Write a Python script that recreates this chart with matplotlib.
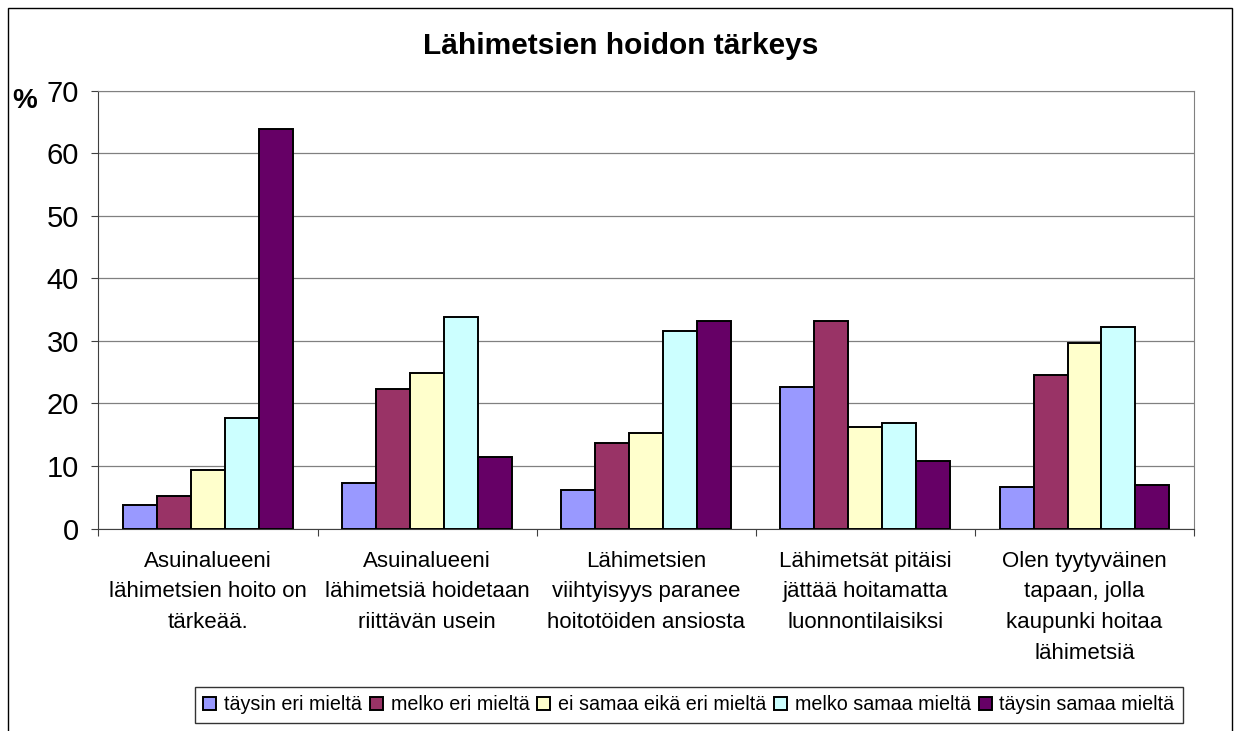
import matplotlib
matplotlib.use("Agg")
import matplotlib.pyplot as plt
from matplotlib.patches import Rectangle
import numpy as np

plt.rcParams['font.family'] = ['Liberation Sans', 'DejaVu Sans']

categories = [
    "Asuinalueeni\nlähimetsien hoito on\ntärkeää.",
    "Asuinalueeni\nlähimetsiä hoidetaan\nriittävän usein",
    "Lähimetsien\nviihtyisyys paranee\nhoitotöiden ansiosta",
    "Lähimetsät pitäisi\njättää hoitamatta\nluonnontilaisiksi",
    "Olen tyytyväinen\ntapaan, jolla\nkaupunki hoitaa\nlähimetsiä",
]
series_names = ["täysin eri mieltä", "melko eri mieltä", "ei samaa eikä eri mieltä",
                "melko samaa mieltä", "täysin samaa mieltä"]
taysin_eri = [3.8, 7.3, 6.1, 22.6, 6.7]
melko_eri = [5.2, 22.3, 13.7, 33.2, 24.6]
ei_samaa_eika_eri = [9.3, 24.8, 15.3, 16.3, 29.7]
melko_samaa = [17.6, 33.8, 31.6, 16.9, 32.3]
taysin_samaa = [63.9, 11.4, 33.2, 10.8, 7.0]
colors = ["#9999FF", "#993366", "#FFFFCC", "#CCFFFF", "#660066"]

values = [taysin_eri, melko_eri, ei_samaa_eika_eri, melko_samaa, taysin_samaa]

fig = plt.figure(figsize=(12.37, 7.31), dpi=100)
ax = fig.add_axes([0.0796, 0.277, 0.8857, 0.5989])

x = np.arange(len(categories))
w = 0.155
for i, (name, vals, c) in enumerate(zip(series_names, values, colors)):
    ax.bar(x + (i - 2) * w, vals, w, color=c, edgecolor="black", linewidth=1.4,
           label=name, zorder=3)

ax.set_xlim(-0.5, len(categories) - 0.5)
ax.set_ylim(0, 70)
ax.set_yticks(range(0, 71, 10))
ax.yaxis.grid(True, color="#808080", linewidth=0.9, zorder=0)
ax.tick_params(axis="y", labelsize=21, length=5, width=0.8, direction="out", pad=9, color="#404040")

ax.set_xticks(x)
ax.set_xticklabels(categories, fontsize=16, linespacing=1.6)
ax.tick_params(axis="x", which="major", length=0, pad=16)
ax.set_xticks(np.arange(-0.5, len(categories), 1), minor=True)
ax.tick_params(axis="x", which="minor", length=5, width=0.8, direction="out", color="#404040")

for s in ["top", "right"]:
    ax.spines[s].set_color("#808080")
for s in ["left", "bottom"]:
    ax.spines[s].set_color("#404040")

fig.text(0.502, 1 - 46 / 731, "Lähimetsien hoidon tärkeys", ha="center", va="center",
         fontsize=21.5, fontweight="bold")
fig.text(25 / 1237, 1 - 101 / 731, "%", ha="center", va="center", fontsize=20, fontweight="bold")

leg = fig.legend(loc="center", bbox_to_anchor=(689 / 1237, 1 - 705 / 731), ncol=5,
                 fontsize=14.2, frameon=True, fancybox=False, edgecolor="black",
                 handlelength=0.65, handleheight=0.65, handletextpad=0.4, columnspacing=0.4,
                 borderpad=0.45, borderaxespad=0)
leg.get_frame().set_linewidth(1.0)

# outer chart border
fig.patches.append(Rectangle((8 / 1237, -0.1), (1232 - 8) / 1237, 1 - 8 / 731 + 0.1,
                             transform=fig.transFigure, fill=False, edgecolor="black",
                             linewidth=1.0, clip_on=False))

fig.savefig("out.png", dpi=100)
